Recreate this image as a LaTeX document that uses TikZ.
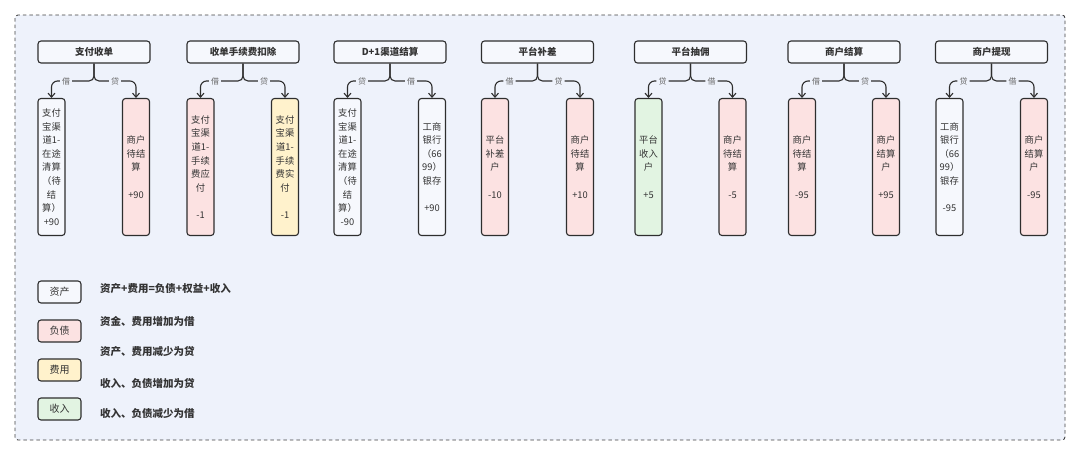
\documentclass[tikz,border=0pt]{standalone}
\usepackage{fontspec}
\setmainfont{Noto Sans CJK SC}
\usepackage{xcolor}
\usetikzlibrary{arrows.meta,positioning}

\definecolor{bgblue}{HTML}{EEF2FB}
\definecolor{boxline}{HTML}{2E2E2E}
\definecolor{assetc}{HTML}{F6F8FD}
\definecolor{debtc}{HTML}{FCE2E2}
\definecolor{costc}{HTML}{FFF2CC}
\definecolor{incomec}{HTML}{E2F4E2}
\definecolor{textc}{HTML}{333333}

\begin{document}
\begin{tikzpicture}[x=1pt, y=-1pt,
  title/.style={draw=boxline, line width=1.1pt, rounded corners=3pt, fill=assetc,
                minimum width=112pt, minimum height=22pt, inner sep=0pt,
                text=textc, font=\fontsize{9.5}{11}\selectfont\bfseries},
  acct/.style={draw=boxline, line width=1.1pt, rounded corners=3pt,
               minimum width=27pt, minimum height=137pt, inner sep=0pt,
               align=center, text=textc, font=\fontsize{9.3}{13.6}\selectfont},
  key/.style={draw=boxline, line width=1.1pt, rounded corners=3pt,
              minimum width=43pt, minimum height=22pt, inner sep=0pt,
              text=textc, font=\fontsize{10}{12}\selectfont},
  asset/.style={fill=assetc},
  debt/.style={fill=debtc},
  cost/.style={fill=costc},
  income/.style={fill=incomec},
  lbl/.style={inner sep=2pt, text=black!60, font=\fontsize{8}{9}\selectfont},
  rule/.style={anchor=west, inner sep=0pt, text=textc,
               font=\fontsize{10.5}{12}\selectfont\bfseries},
  brace/.style={line width=1.1pt, draw=boxline, rounded corners=5pt},
  arr/.style={-{Straight Barb[length=4pt,width=7pt]}, line width=1.1pt,
              draw=boxline, rounded corners=6pt}
]
\useasboundingbox (0,0) rectangle (1072,456);
\draw[fill=bgblue, draw=black!75, line width=0.9pt, dash pattern=on 3.5pt off 3pt,
      rounded corners=3pt] (15,15) rectangle (1065,440);

% titles
\node[title] (t1) at (94,52) {支付收单};
\node[title] (t2) at (243,52) {收单手续费扣除};
\node[title] (t3) at (390,52) {D+1渠道结算};
\node[title] (t4) at (537.5,52) {平台补差};
\node[title] (t5) at (690.5,52) {平台抽佣};
\node[title] (t6) at (844,52) {商户结算};
\node[title] (t7) at (991.5,52) {商户提现};

% debit / credit labels
\node[lbl] (l1) at (66,81) {借};      \node[lbl] (r1) at (115,81) {贷};
\node[lbl] (l2) at (215,81) {借};     \node[lbl] (r2) at (264,81) {贷};
\node[lbl] (l3) at (362,81) {贷};     \node[lbl] (r3) at (411,81) {借};
\node[lbl] (l4) at (509.5,81) {借};   \node[lbl] (r4) at (558.5,81) {贷};
\node[lbl] (l5) at (662.5,81) {贷};   \node[lbl] (r5) at (711.5,81) {借};
\node[lbl] (l6) at (816,81) {借};     \node[lbl] (r6) at (865,81) {贷};
\node[lbl] (l7) at (963.5,81) {贷};   \node[lbl] (r7) at (1012.5,81) {借};

% accounts
\node[acct, asset] (a1) at (51.5,167) {支付\\宝渠\\道1-\\在途\\清算\\（待\\结\\算）\\+90};
\node[acct, debt] (b1) at (136,167) {商户\\待结\\算\\[13.6pt]+90};
\node[acct, debt] (a2) at (200.5,167) {支付\\宝渠\\道1-\\手续\\费应\\付\\[13.6pt]-1};
\node[acct, cost] (b2) at (285,167) {支付\\宝渠\\道1-\\手续\\费实\\付\\[13.6pt]-1};
\node[acct, asset] (a3) at (347.5,167) {支付\\宝渠\\道1-\\在途\\清算\\（待\\结\\算）\\-90};
\node[acct, asset] (b3) at (432,167) {工商\\银行\\（66\\99）\\银存\\[13.6pt]+90};
\node[acct, debt] (a4) at (495,167) {平台\\补差\\户\\[13.6pt]-10};
\node[acct, debt] (b4) at (580,167) {商户\\待结\\算\\[13.6pt]+10};
\node[acct, income] (a5) at (648.5,167) {平台\\收入\\户\\[13.6pt]+5};
\node[acct, debt] (b5) at (732.5,167) {商户\\待结\\算\\[13.6pt]-5};
\node[acct, debt] (a6) at (802,167) {商户\\待结\\算\\[13.6pt]-95};
\node[acct, debt] (b6) at (886,167) {商户\\结算\\户\\[13.6pt]+95};
\node[acct, asset] (a7) at (949.5,167) {工商\\银行\\（66\\99）\\银存\\[13.6pt]-95};
\node[acct, debt] (b7) at (1034,167) {商户\\结算\\户\\[13.6pt]-95};

\foreach \i in {1,...,7} {
  \draw[brace] (l\i.east) -| (t\i.south);
  \draw[brace] (r\i.west) -| (t\i.south);
  \draw[arr] (l\i.west) -| (a\i.north);
  \draw[arr] (r\i.east) -| (b\i.north);
}

% legend
\node[key, asset] (k1) at (59.5,292) {资产};
\node[key, debt] (k2) at (59.5,331) {负债};
\node[key, cost] (k3) at (59.5,370) {费用};
\node[key, income] (k4) at (59.5,409) {收入};

\node[rule] (m1) at (100,289) {资产+费用=负债+权益+收入};
\node[rule] (m2) at (100,321) {资金、费用增加为借};
\node[rule] (m3) at (100,352) {资产、费用减少为贷};
\node[rule] (m4) at (100,383) {收入、负债增加为贷};
\node[rule] (m5) at (100,414) {收入、负债减少为借};
\end{tikzpicture}
\end{document}
